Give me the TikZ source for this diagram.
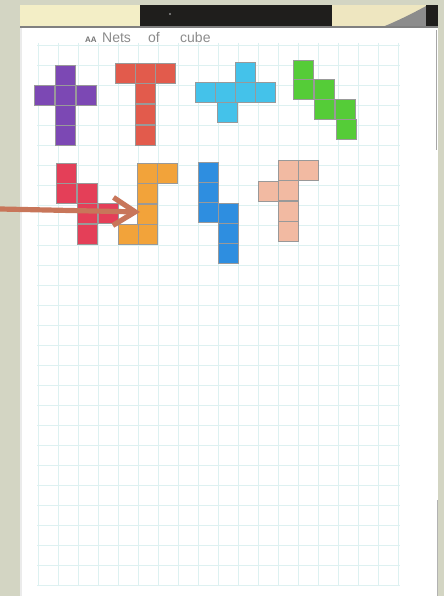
\documentclass[tikz,border=0pt]{standalone}
\usepackage{fontspec}
\setmainfont{Liberation Sans}
\usetikzlibrary{arrows.meta}
\definecolor{bg}{HTML}{D3D5C3}
\definecolor{cream}{HTML}{F3EEC6}
\definecolor{cream2}{HTML}{EEE6C0}
\definecolor{darkband}{HTML}{1F1E1C}
\definecolor{gridc}{HTML}{DDF1F1}
\definecolor{pencil}{HTML}{8C8C8C}
\definecolor{cpurple}{HTML}{7C48B4}
\definecolor{cred}{HTML}{E25B4C}
\definecolor{ccyan}{HTML}{44C2EA}
\definecolor{cgreen}{HTML}{55CC38}
\definecolor{ccrimson}{HTML}{E43F58}
\definecolor{corange}{HTML}{F2A33A}
\definecolor{cblue}{HTML}{2E8EE0}
\definecolor{cpeach}{HTML}{F2BAA2}
\definecolor{arrowc}{HTML}{C8765A}
\tikzset{
  gridline/.style={draw=gridc, line width=0.9pt},
  cellbox/.style={draw=black!40, line width=0.6pt},
  titletext/.style={text=pencil, font=\fontsize{14}{16}\selectfont, inner sep=0pt},
  arrowline/.style={draw=arrowc, line width=5.2pt, line cap=round,
    -{Straight Barb[length=22pt,width=28pt,line width=5.2pt]}}
}
\newcommand\netcells[2]{%
  \foreach \cx/\cy in {#2}{\path[cellbox, fill=#1] (\cx,\cy) rectangle ++(20.5,20.5);}}
\begin{document}
\begin{tikzpicture}[x=1pt,y=-1pt]
\useasboundingbox (0,0) rectangle (444,596);
\fill[bg] (0,0) rectangle (444,596);
% paper
\fill[white] (20,27) rectangle (438,596);
\fill[black!8] (20,27) rectangle (22,596);
\draw[black!35, line width=1pt] (436,30) -- (436,150);
\draw[black!30, line width=1pt] (437,500) -- (437,596);
% top band
\fill[cream] (20,5) rectangle (140,28);
\fill[darkband] (140,5) rectangle (332,28);
\fill[cream2] (332,5) rectangle (428,28);
\fill[black!45] (380,28) .. controls (400,20) and (415,12) .. (428,5) -- (428,28) -- cycle;
\fill[darkband] (426,5) rectangle (438,28);
\fill[black!50] (20,26) rectangle (438,28);
\fill[black!45] (170,14) circle (1.2);
% grid
\foreach \i in {0,...,18}{\draw[gridline] ({38+20*\i},43) -- ({38+20*\i},586);}
\foreach \j in {0,...,27}{\draw[gridline] (37,{45+20*\j}) -- (400,{45+20*\j});}
% title
\node[titletext, anchor=base west, font=\bfseries\fontsize{8}{9}\selectfont, text=black!55] (tAA) at (85,43) {AA};
\node[titletext, anchor=base west] (tNets) at (102,43) {Nets};
\node[titletext, anchor=base west] (tof) at (148,43) {of};
\node[titletext, anchor=base west] (tcube) at (180,43) {cube};
% nets, first row
\netcells{cpurple}{34/85,55/65,55/85,55/105,55/125,76/85}
\netcells{cred}{115/63,135/63,155/63,135/83,135/104,135/125}
\netcells{ccyan}{235/62,195/82,215/82,235/82,255/82,217/102}
\netcells{cgreen}{293/60,293/79,314/79,314/99,335/99,336/119}
% nets, second row
\netcells{ccrimson}{56/163,56/183,77/183,77/203,77/224,98/203}
\netcells{corange}{137/163,157/163,137/183,137/204,137/224,118/224}
\netcells{cblue}{198/162,198/182,198/202,218/203,218/223,218/243}
\netcells{cpeach}{278/160,298/160,258/181,278/180,278/201,278/221}
% arrow
\coordinate (arrowfrom) at (0,209);
\coordinate (arrowto) at (140,212);
\draw[arrowline] (arrowfrom) -- (arrowto);
\end{tikzpicture}
\end{document}
